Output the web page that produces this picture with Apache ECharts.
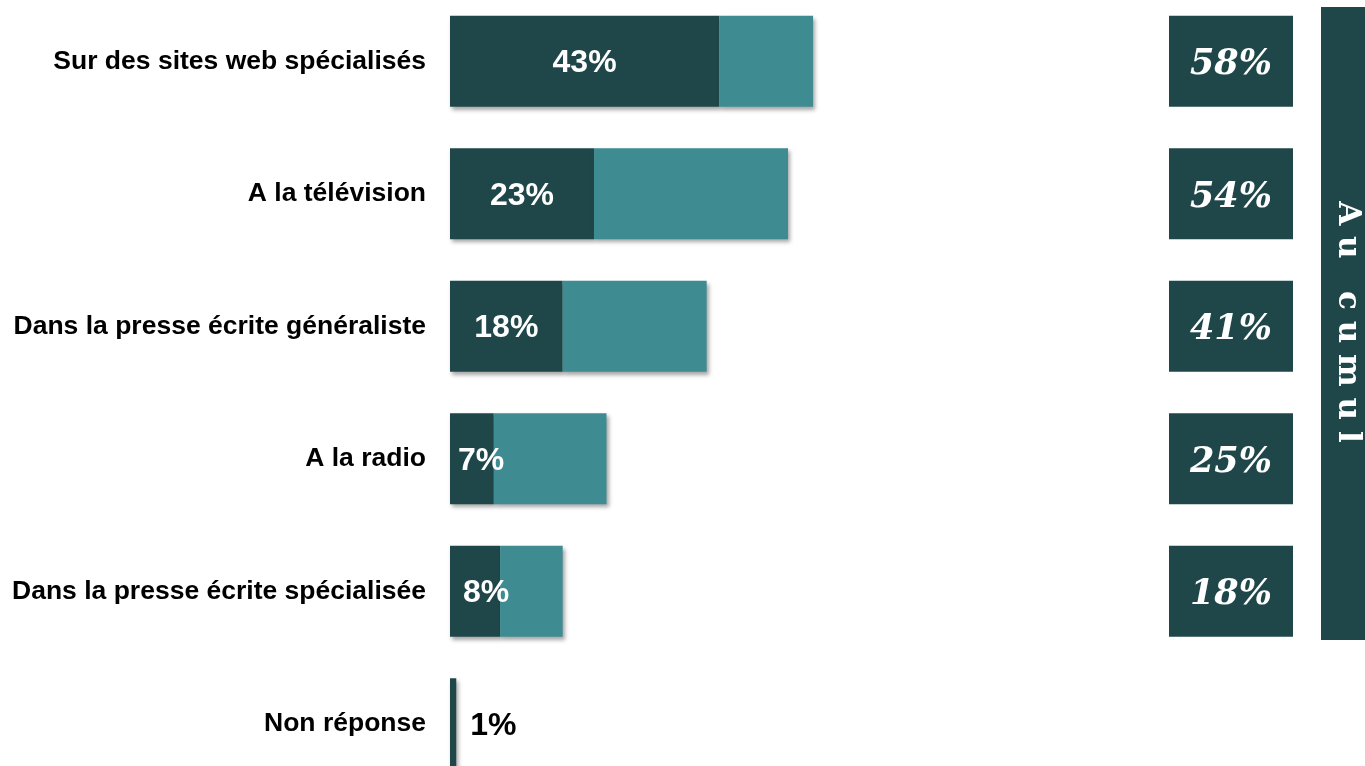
<!DOCTYPE html>
<html><head><meta charset="utf-8">
<script src="https://cdn.jsdelivr.net/npm/echarts@6/dist/echarts.min.js"></script>
<style>html,body{margin:0;padding:0;background:#fff;}#c{width:1365px;height:766px;}</style>
</head><body><div id="c"></div>
<script>
var categories = ["Sur des sites web spécialisés","A la télévision","Dans la presse écrite généraliste","A la radio","Dans la presse écrite spécialisée","Non réponse"];
var firstValues = [43, 23, 18, 7, 8, 1];
var cumulValues = [58, 54, 41, 25, 18, null];
var restValues = cumulValues.map(function(t, i){ return t == null ? 0 : t - firstValues[i]; });
var DARK = '#1f4749', LIGHT = '#3e8b91';
var shadow = {shadowBlur: 4, shadowOffsetX: 2, shadowOffsetY: 3, shadowColor: 'rgba(0,0,0,0.35)'};

var chart = echarts.init(document.getElementById('c'));
chart.setOption({
  animation: false,
  grid: [
    {left: 450, width: 626, top: -5, height: 795, containLabel: false, outerBoundsMode: 'none'},
    {left: 1169, width: 124, top: -5, height: 795, containLabel: false, outerBoundsMode: 'none'}
  ],
  xAxis: [
    {gridIndex: 0, type: 'value', min: 0, max: 100, show: false},
    {gridIndex: 1, type: 'value', min: 0, max: 1, show: false}
  ],
  yAxis: [
    {gridIndex: 0, type: 'category', data: categories, inverse: true,
     axisLine: {show: false}, axisTick: {show: false}, splitLine: {show: false},
     axisLabel: {margin: 24, fontFamily: 'Liberation Sans, Arial', fontWeight: 'bold', fontSize: 26.5, color: '#000'}},
    {gridIndex: 1, type: 'category', data: categories, inverse: true, show: false}
  ],
  series: [
    {type: 'bar', stack: 'a', xAxisIndex: 0, yAxisIndex: 0, barWidth: 91,
     itemStyle: Object.assign({color: DARK}, shadow),
     label: {show: true, position: 'inside', offset: [0, 2], formatter: '{c}%', color: '#fff', fontFamily: 'Liberation Sans, Arial', fontWeight: 'bold', fontSize: 32},
     data: firstValues.map(function(v, i){
       if (i === 5) return {value: v, label: {position: 'right', distance: 14, color: '#000'}};
       if (i === 3) return {value: v, label: {position: 'insideLeft', distance: 8}};
       if (i === 4) return {value: v, label: {position: 'insideLeft', distance: 13}};
       return v;
     })},
    {type: 'bar', stack: 'a', xAxisIndex: 0, yAxisIndex: 0, barWidth: 91,
     itemStyle: Object.assign({color: LIGHT}, shadow),
     data: restValues},
    {type: 'scatter', xAxisIndex: 1, yAxisIndex: 1, symbol: 'rect', symbolSize: [124, 91],
     itemStyle: {color: DARK, opacity: 1},
     label: {show: true, position: 'inside', offset: [0, 4], color: '#fff', fontFamily: 'DejaVu Serif', fontStyle: 'italic', fontWeight: 'bold', fontSize: 35,
       formatter: function(p){ return cumulValues[p.dataIndex] + '%'; }},
     data: cumulValues.map(function(t, i){ return t == null ? null : [0.5, i]; }).filter(function(d){ return d; })}
  ],
  graphic: [
    {type: 'rect', left: 1321, top: 7, shape: {width: 44, height: 633}, style: {fill: DARK}},
    {type: 'text', x: 1347, y: 322, rotation: -Math.PI / 2,
     style: {text: 'A u   c u m u l', fill: '#fff', font: 'bold 31px "DejaVu Serif"', textAlign: 'center', textVerticalAlign: 'middle'}}
  ]
});
</script></body></html>
